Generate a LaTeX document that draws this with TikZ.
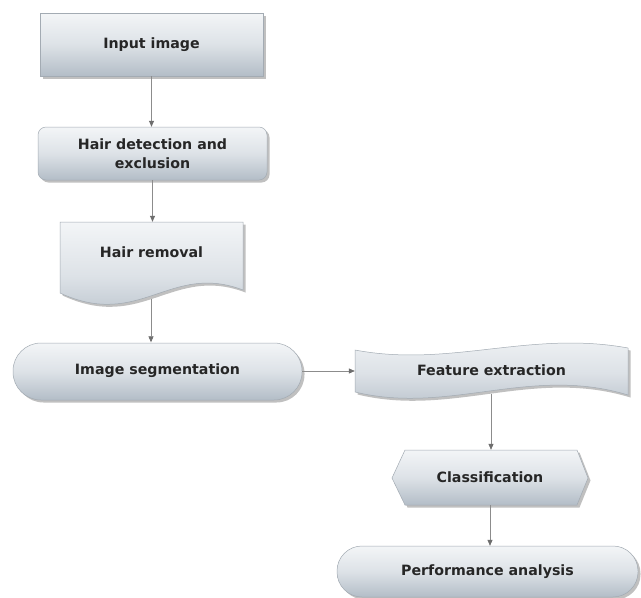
\documentclass[tikz,border=0pt]{standalone}
\usepackage{fontspec}
\setmainfont{DejaVu Sans}
\usetikzlibrary{shadows,arrows.meta}
\definecolor{boxtop}{HTML}{F3F5F7}
\definecolor{boxmid}{HTML}{DDE2E7}
\definecolor{boxbot}{HTML}{B3BDC7}
\definecolor{boxline}{HTML}{A3ABB3}
\definecolor{linkcol}{HTML}{8C8C8C}
\definecolor{tipcol}{HTML}{6E6E6E}
\begin{document}
\begin{tikzpicture}[x=1pt,y=-1pt,
  shapebox/.style={top color=boxtop,bottom color=boxbot,middle color=boxmid,
    draw=boxline,line width=0.5pt,
    drop shadow={shadow xshift=2.5pt,shadow yshift=-2.5pt,opacity=0.35,fill=black!70}},
  boxtext/.style={font=\fontsize{14.2}{18.5}\selectfont\bfseries,text=black!85,
    align=center,inner sep=0pt},
  link/.style={draw=linkcol,line width=0.7pt,
    -{Triangle[width=5pt,length=6pt,color=tipcol]}}]
\useasboundingbox[fill=white] (0,0) rectangle (641,598);

% shapes
\path[shapebox] (40,13) rectangle (263,76);
\path[shapebox,rounded corners=8pt] (38,127) rectangle (267,180);
\path[shapebox] (60,222) -- (243,222) -- (243,290)
  .. controls (170,262) and (140,330) .. (60,293) -- cycle;
\path[shapebox,rounded corners=28pt] (13,343) rectangle (302,400);
\path[shapebox] (355,350) .. controls (450,368) and (530,330) .. (628,348)
  -- (628,395) .. controls (530,365) and (450,415) .. (355,392) -- cycle;
\path[shapebox] (392,478) -- (405,450) -- (577,450) -- (588,478)
  -- (577,505) -- (405,505) -- cycle;
\path[shapebox,rounded corners=25pt] (337,546) rectangle (638,597);

% labels
\node[boxtext,minimum width=223pt,minimum height=63pt] (input) at (151.5,44.5) {Input image};
\node[boxtext,minimum width=229pt,minimum height=53pt] (detect) at (152.5,153.5) {Hair detection and\\exclusion};
\node[boxtext,minimum width=183pt,minimum height=60pt] (removal) at (151.5,252) {Hair removal};
\node[boxtext,minimum width=289pt,minimum height=57pt] (seg) at (157.5,371) {Image segmentation};
\node[boxtext,minimum width=273pt,minimum height=40pt] (feat) at (491.5,370) {Feature extraction};
\node[boxtext,minimum width=196pt,minimum height=55pt] (class) at (490,477.5) {Classification};
\node[boxtext,minimum width=301pt,minimum height=51pt] (perf) at (487.5,571.5) {Performance analysis};

\coordinate (rmb) at (151,299);
\coordinate (fxb) at (491,394);

% connectors
\draw[link] (input.south) -- (input.south |- detect.north);
\draw[link] (detect.south) -- (detect.south |- removal.north);
\draw[link] (rmb) -- (rmb |- seg.north);
\draw[link] (seg.east) -- (seg.east -| feat.west);
\draw[link] (fxb) -- (fxb |- class.north);
\draw[link] (class.south) -- (class.south |- perf.north);
\end{tikzpicture}
\end{document}
